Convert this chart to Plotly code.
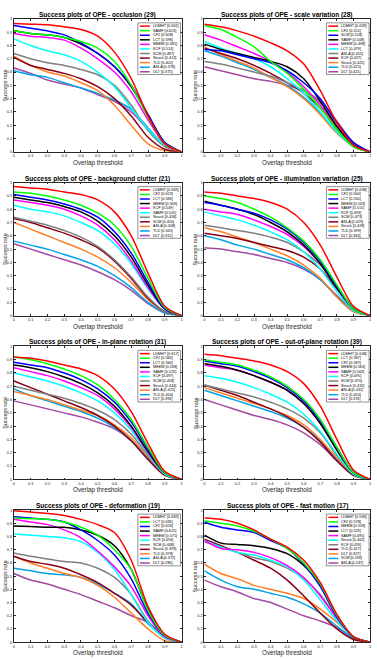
import plotly.graph_objects as go

X = [0, 0.1, 0.2, 0.3, 0.4, 0.5, 0.6, 0.7, 0.8, 0.9, 1.0]
X_TICKTEXT = ["0", "0.1", "0.2", "0.3", "0.4", "0.5", "0.6", "0.7", "0.8", "0.9", "1"]
COLORS = ["#FF0000", "#00FF00", "#0000FF", "#000000", "#FF00FF", "#00FFFF",
          "#808080", "#880015", "#FF7F27", "#00A2E8", "#A349A4"]

# ---- occlusion (29)
OCC_NAMES = ["LDMHT", "SAMF", "CF2", "LCT", "MEEM", "KCF", "SCM", "Struck", "TLD", "ASLA", "DLT"]
OCC_SCORES = ["0.661", "0.613", "0.608", "0.598", "0.581", "0.514", "0.487", "0.413", "0.402", "0.376", "0.375"]
OCC_CURVES = [
    [0.965, 0.96, 0.955, 0.94, 0.92, 0.87, 0.75, 0.55, 0.27, 0.06, 0],
    [0.91, 0.89, 0.88, 0.86, 0.83, 0.78, 0.68, 0.50, 0.26, 0.06, 0],
    [0.95, 0.93, 0.91, 0.88, 0.82, 0.74, 0.64, 0.50, 0.28, 0.07, 0],
    [0.91, 0.89, 0.88, 0.86, 0.81, 0.74, 0.64, 0.49, 0.28, 0.07, 0],
    [0.89, 0.87, 0.86, 0.84, 0.78, 0.70, 0.60, 0.45, 0.24, 0.06, 0],
    [0.85, 0.80, 0.76, 0.73, 0.68, 0.60, 0.49, 0.33, 0.17, 0.05, 0],
    [0.74, 0.70, 0.67, 0.65, 0.62, 0.58, 0.50, 0.35, 0.16, 0.04, 0],
    [0.71, 0.65, 0.62, 0.59, 0.55, 0.49, 0.40, 0.27, 0.11, 0.02, 0],
    [0.72, 0.65, 0.60, 0.57, 0.52, 0.46, 0.35, 0.20, 0.06, 0.01, 0],
    [0.61, 0.58, 0.56, 0.52, 0.48, 0.44, 0.39, 0.32, 0.18, 0.05, 0],
    [0.63, 0.59, 0.54, 0.51, 0.48, 0.43, 0.38, 0.30, 0.17, 0.05, 0],
]

# ---- scale variation (28)
SV_NAMES = ["LDMHT", "CF2", "SCM", "SAMF", "MEEM", "LCT", "ASLA", "KCF", "Struck", "TLD", "DLT"]
SV_SCORES = ["0.639", "0.551", "0.518", "0.508", "0.498", "0.479", "0.452", "0.427", "0.425", "0.421", "0.421"]
SV_CURVES = [
    [0.96, 0.94, 0.91, 0.87, 0.82, 0.76, 0.66, 0.46, 0.22, 0.05, 0],
    [0.95, 0.92, 0.86, 0.79, 0.68, 0.59, 0.47, 0.33, 0.17, 0.04, 0],
    [0.77, 0.76, 0.73, 0.70, 0.67, 0.61, 0.52, 0.40, 0.22, 0.07, 0],
    [0.81, 0.77, 0.74, 0.71, 0.68, 0.64, 0.55, 0.38, 0.19, 0.05, 0],
    [0.88, 0.84, 0.79, 0.74, 0.68, 0.60, 0.49, 0.35, 0.19, 0.05, 0],
    [0.83, 0.78, 0.74, 0.70, 0.64, 0.55, 0.44, 0.30, 0.15, 0.04, 0],
    [0.68, 0.66, 0.63, 0.60, 0.57, 0.52, 0.46, 0.37, 0.21, 0.06, 0],
    [0.78, 0.74, 0.70, 0.65, 0.59, 0.52, 0.44, 0.33, 0.17, 0.04, 0],
    [0.79, 0.73, 0.68, 0.63, 0.56, 0.49, 0.40, 0.28, 0.14, 0.04, 0],
    [0.76, 0.72, 0.67, 0.62, 0.56, 0.50, 0.41, 0.29, 0.15, 0.04, 0],
    [0.64, 0.61, 0.58, 0.55, 0.53, 0.50, 0.46, 0.38, 0.23, 0.07, 0],
]

# ---- background clutter (21)
BC_NAMES = ["LDMHT", "CF2", "LCT", "MEEM", "KCF", "SAMF", "Struck", "SCM", "ASLA", "TLD", "DLT"]
BC_SCORES = ["0.683", "0.623", "0.583", "0.569", "0.549", "0.520", "0.458", "0.450", "0.408", "0.345", "0.312"]
BC_CURVES = [
    [0.97, 0.96, 0.95, 0.93, 0.91, 0.87, 0.78, 0.60, 0.32, 0.07, 0],
    [0.93, 0.92, 0.90, 0.87, 0.83, 0.77, 0.68, 0.52, 0.28, 0.06, 0],
    [0.91, 0.89, 0.87, 0.84, 0.80, 0.74, 0.63, 0.47, 0.25, 0.05, 0],
    [0.89, 0.87, 0.85, 0.82, 0.78, 0.71, 0.60, 0.44, 0.23, 0.05, 0],
    [0.87, 0.85, 0.83, 0.80, 0.75, 0.68, 0.57, 0.41, 0.21, 0.05, 0],
    [0.83, 0.80, 0.78, 0.75, 0.70, 0.64, 0.54, 0.39, 0.20, 0.05, 0],
    [0.74, 0.71, 0.68, 0.64, 0.59, 0.52, 0.42, 0.29, 0.14, 0.03, 0],
    [0.73, 0.70, 0.66, 0.62, 0.57, 0.51, 0.41, 0.28, 0.13, 0.03, 0],
    [0.70, 0.65, 0.60, 0.55, 0.50, 0.44, 0.36, 0.25, 0.12, 0.03, 0],
    [0.56, 0.53, 0.50, 0.46, 0.42, 0.37, 0.30, 0.21, 0.10, 0.02, 0],
    [0.54, 0.50, 0.46, 0.42, 0.38, 0.33, 0.27, 0.19, 0.09, 0.02, 0],
]

# ---- illumination variation (25)
IV_NAMES = ["LDMHT", "CF2", "LCT", "MEEM", "SAMF", "KCF", "SCM", "ASLA", "Struck", "TLD", "DLT"]
IV_SCORES = ["0.638", "0.560", "0.550", "0.543", "0.515", "0.493", "0.473", "0.429", "0.428", "0.399", "0.363"]
IV_CURVES = [
    [0.93, 0.92, 0.90, 0.88, 0.85, 0.80, 0.70, 0.53, 0.29, 0.07, 0],
    [0.90, 0.88, 0.85, 0.80, 0.74, 0.66, 0.56, 0.42, 0.23, 0.05, 0],
    [0.85, 0.83, 0.80, 0.77, 0.72, 0.65, 0.55, 0.41, 0.22, 0.05, 0],
    [0.86, 0.83, 0.80, 0.76, 0.70, 0.63, 0.53, 0.39, 0.21, 0.05, 0],
    [0.80, 0.78, 0.76, 0.72, 0.67, 0.61, 0.52, 0.39, 0.21, 0.05, 0],
    [0.78, 0.75, 0.72, 0.68, 0.63, 0.57, 0.48, 0.35, 0.18, 0.04, 0],
    [0.68, 0.66, 0.64, 0.62, 0.59, 0.55, 0.48, 0.38, 0.22, 0.06, 0],
    [0.62, 0.60, 0.58, 0.55, 0.52, 0.49, 0.44, 0.35, 0.20, 0.05, 0],
    [0.66, 0.63, 0.59, 0.55, 0.50, 0.45, 0.38, 0.28, 0.14, 0.03, 0],
    [0.60, 0.57, 0.53, 0.50, 0.46, 0.42, 0.36, 0.27, 0.14, 0.03, 0],
    [0.51, 0.50, 0.48, 0.46, 0.43, 0.40, 0.35, 0.27, 0.15, 0.04, 0],
]

# ---- in-plane rotation (31)
IPR_NAMES = ["LDMHT", "CF2", "LCT", "MEEM", "SAMF", "KCF", "SCM", "Struck", "ASLA", "TLD", "DLT"]
IPR_SCORES = ["0.617", "0.582", "0.560", "0.538", "0.520", "0.497", "0.458", "0.444", "0.425", "0.416", "0.396"]
IPR_CURVES = [
    [0.92, 0.91, 0.89, 0.86, 0.83, 0.78, 0.68, 0.51, 0.27, 0.06, 0],
    [0.92, 0.90, 0.87, 0.83, 0.78, 0.71, 0.60, 0.45, 0.24, 0.05, 0],
    [0.88, 0.86, 0.84, 0.80, 0.75, 0.68, 0.58, 0.43, 0.23, 0.05, 0],
    [0.86, 0.84, 0.81, 0.77, 0.72, 0.65, 0.55, 0.40, 0.21, 0.05, 0],
    [0.84, 0.81, 0.78, 0.74, 0.69, 0.63, 0.53, 0.39, 0.20, 0.05, 0],
    [0.80, 0.77, 0.74, 0.70, 0.65, 0.59, 0.50, 0.37, 0.19, 0.04, 0],
    [0.70, 0.67, 0.64, 0.61, 0.57, 0.52, 0.45, 0.34, 0.18, 0.04, 0],
    [0.74, 0.69, 0.64, 0.59, 0.54, 0.48, 0.40, 0.29, 0.15, 0.03, 0],
    [0.66, 0.63, 0.60, 0.56, 0.52, 0.48, 0.41, 0.31, 0.17, 0.04, 0],
    [0.68, 0.63, 0.59, 0.55, 0.51, 0.46, 0.39, 0.29, 0.15, 0.04, 0],
    [0.59, 0.56, 0.53, 0.50, 0.47, 0.43, 0.38, 0.29, 0.16, 0.04, 0],
]

# ---- out-of-plane rotation (39)
OPR_NAMES = ["LDMHT", "LCT", "CF2", "MEEM", "SAMF", "KCF", "SCM", "Struck", "ASLA", "TLD", "DLT"]
OPR_SCORES = ["0.648", "0.587", "0.587", "0.563", "0.563", "0.495", "0.470", "0.432", "0.432", "0.420", "0.376"]
OPR_CURVES = [
    [0.94, 0.93, 0.91, 0.89, 0.86, 0.81, 0.72, 0.55, 0.30, 0.07, 0],
    [0.90, 0.88, 0.86, 0.82, 0.77, 0.70, 0.60, 0.45, 0.24, 0.05, 0],
    [0.89, 0.87, 0.85, 0.81, 0.76, 0.69, 0.59, 0.44, 0.24, 0.05, 0],
    [0.87, 0.85, 0.82, 0.78, 0.73, 0.67, 0.57, 0.42, 0.22, 0.05, 0],
    [0.86, 0.84, 0.82, 0.78, 0.73, 0.67, 0.57, 0.42, 0.22, 0.05, 0],
    [0.78, 0.76, 0.73, 0.69, 0.64, 0.58, 0.49, 0.36, 0.19, 0.04, 0],
    [0.71, 0.68, 0.65, 0.62, 0.58, 0.53, 0.46, 0.35, 0.18, 0.04, 0],
    [0.71, 0.67, 0.63, 0.58, 0.53, 0.47, 0.39, 0.28, 0.14, 0.03, 0],
    [0.69, 0.65, 0.61, 0.57, 0.53, 0.48, 0.41, 0.30, 0.16, 0.04, 0],
    [0.67, 0.63, 0.59, 0.55, 0.51, 0.46, 0.39, 0.29, 0.15, 0.04, 0],
    [0.60, 0.56, 0.52, 0.48, 0.45, 0.41, 0.35, 0.26, 0.14, 0.03, 0],
]

# ---- deformation (19)
DEF_NAMES = ["LDMHT", "LCT", "CF2", "SAMF", "MEEM", "KCF", "SCM", "Struck", "TLD", "ASLA", "DLT"]
DEF_SCORES = ["0.669", "0.636", "0.626", "0.625", "0.571", "0.494", "0.448", "0.393", "0.378", "0.372", "0.286"]
DEF_CURVES = [
    [0.995, 0.985, 0.975, 0.96, 0.93, 0.89, 0.83, 0.62, 0.27, 0.06, 0],
    [0.94, 0.935, 0.93, 0.91, 0.87, 0.81, 0.70, 0.55, 0.24, 0.05, 0],
    [0.95, 0.94, 0.93, 0.91, 0.85, 0.77, 0.66, 0.48, 0.22, 0.05, 0],
    [0.88, 0.875, 0.87, 0.87, 0.85, 0.81, 0.73, 0.55, 0.25, 0.05, 0],
    [0.93, 0.91, 0.89, 0.85, 0.79, 0.69, 0.57, 0.42, 0.20, 0.04, 0],
    [0.82, 0.81, 0.80, 0.79, 0.76, 0.68, 0.55, 0.36, 0.15, 0.03, 0],
    [0.675, 0.65, 0.63, 0.61, 0.60, 0.56, 0.49, 0.36, 0.16, 0.03, 0],
    [0.65, 0.61, 0.59, 0.56, 0.51, 0.45, 0.37, 0.28, 0.15, 0.04, 0],
    [0.65, 0.60, 0.56, 0.52, 0.49, 0.43, 0.34, 0.22, 0.10, 0.01, 0],
    [0.56, 0.54, 0.52, 0.51, 0.49, 0.44, 0.37, 0.29, 0.14, 0.04, 0],
    [0.52, 0.47, 0.44, 0.40, 0.36, 0.31, 0.26, 0.20, 0.15, 0.05, 0],
]

# ---- fast motion (17)
FM_NAMES = ["LDMHT", "CF2", "MEEM", "LCT", "SAMF", "Struck", "KCF", "TLD", "DLT", "SCM", "ASLA"]
FM_SCORES = ["0.583", "0.578", "0.558", "0.529", "0.495", "0.462", "0.459", "0.417", "0.327", "0.296", "0.247"]
FM_CURVES = [
    [0.94, 0.93, 0.90, 0.85, 0.78, 0.72, 0.62, 0.45, 0.21, 0.04, 0],
    [0.92, 0.90, 0.88, 0.84, 0.78, 0.71, 0.60, 0.44, 0.20, 0.04, 0],
    [0.91, 0.87, 0.85, 0.83, 0.77, 0.71, 0.59, 0.42, 0.19, 0.04, 0],
    [0.81, 0.75, 0.74, 0.73, 0.71, 0.67, 0.58, 0.43, 0.20, 0.04, 0],
    [0.77, 0.71, 0.70, 0.68, 0.64, 0.58, 0.49, 0.35, 0.18, 0.04, 0],
    [0.77, 0.72, 0.68, 0.66, 0.62, 0.57, 0.47, 0.32, 0.16, 0.04, 0],
    [0.76, 0.72, 0.68, 0.64, 0.61, 0.56, 0.48, 0.36, 0.18, 0.04, 0],
    [0.78, 0.73, 0.68, 0.62, 0.56, 0.47, 0.35, 0.22, 0.10, 0.02, 0],
    [0.59, 0.52, 0.48, 0.43, 0.40, 0.37, 0.33, 0.25, 0.15, 0.04, 0],
    [0.54, 0.47, 0.42, 0.40, 0.37, 0.34, 0.29, 0.22, 0.12, 0.03, 0],
    [0.47, 0.42, 0.38, 0.33, 0.30, 0.25, 0.20, 0.16, 0.11, 0.03, 0],
]

PANELS = [
    ("occlusion (29)", OCC_NAMES, OCC_SCORES, OCC_CURVES),
    ("scale variation (28)", SV_NAMES, SV_SCORES, SV_CURVES),
    ("background clutter (21)", BC_NAMES, BC_SCORES, BC_CURVES),
    ("illumination variation (25)", IV_NAMES, IV_SCORES, IV_CURVES),
    ("in-plane rotation (31)", IPR_NAMES, IPR_SCORES, IPR_CURVES),
    ("out-of-plane rotation (39)", OPR_NAMES, OPR_SCORES, OPR_CURVES),
    ("deformation (19)", DEF_NAMES, DEF_SCORES, DEF_CURVES),
    ("fast motion (17)", FM_NAMES, FM_SCORES, FM_CURVES),
]

W, H = 377, 659
COLS = [(13, 182), (205, 372)]
ROWS = [(16, 150), (181, 315), (346, 480), (511, 644)]
FONT = "Liberation Sans, Arial, sans-serif"
AXC = "#262626"


def px(x):
    return x / W


def py(y):
    return 1 - y / H


fig = go.Figure()
layout = dict(width=W, height=H, autosize=False, margin=dict(l=0, r=0, t=0, b=0),
              paper_bgcolor="white", plot_bgcolor="white", showlegend=False,
              font=dict(family=FONT, color=AXC))
annotations = []
shapes = []

for i, (title, names, scores, curves) in enumerate(PANELS):
    r, c = divmod(i, 2)
    x0, x1 = COLS[c]
    y0, y1 = ROWS[r]
    sfx = "" if i == 0 else str(i + 1)
    common = dict(range=[0, 1], showgrid=False, zeroline=False, showline=True,
                  linecolor=AXC, linewidth=0.6, mirror="ticks", ticks="inside",
                  ticklen=2, tickwidth=0.5, tickcolor=AXC,
                  tickvals=X, ticktext=X_TICKTEXT, tickfont=dict(size=4, color=AXC, family=FONT),
                  fixedrange=True)
    layout["xaxis" + sfx] = dict(common, domain=[px(x0), px(x1)], anchor="y" + sfx)
    layout["yaxis" + sfx] = dict(common, domain=[py(y1), py(y0)], anchor="x" + sfx)

    for k in range(len(names) - 1, -1, -1):
        fig.add_trace(go.Scatter(
            x=X, y=curves[k], mode="lines", name=names[k],
            line=dict(color=COLORS[k], width=1.5, shape="spline", smoothing=0.8),
            xaxis="x" + sfx, yaxis="y" + sfx, hoverinfo="skip"))

    cx = (x0 + x1) / 2
    annotations.append(dict(text="<b>Success plots of OPE - " + title + "</b>",
                            x=px(cx), y=py(y0 - 4), xref="paper", yref="paper",
                            xanchor="center", yanchor="middle", showarrow=False,
                            font=dict(size=6.5, color="black", family=FONT)))
    annotations.append(dict(text="Overlap threshold", x=px(cx), y=py(y1 + 11),
                            xref="paper", yref="paper", xanchor="center", yanchor="middle",
                            showarrow=False, font=dict(size=6.3, color=AXC, family=FONT)))
    annotations.append(dict(text="Success rate", x=px(x0 - 9), y=py((y0 + y1) / 2),
                            xref="paper", yref="paper", xanchor="center", yanchor="middle",
                            textangle=-90, showarrow=False,
                            font=dict(size=5.5, color=AXC, family=FONT)))

    # legend box
    lx0, lx1 = x1 - 44, x1 - 1
    ly0 = y0 + 4
    step = 4.6
    ly1 = ly0 + step * len(names) + 1.5
    shapes.append(dict(type="rect", xref="paper", yref="paper",
                       x0=px(lx0), x1=px(lx1), y0=py(ly1), y1=py(ly0),
                       fillcolor="white", line=dict(color=AXC, width=0.5), layer="above"))
    for k, (nm, sc) in enumerate(zip(names, scores)):
        yc = ly0 + 1 + step * (k + 0.5)
        shapes.append(dict(type="line", xref="paper", yref="paper",
                           x0=px(lx0 + 2), x1=px(lx0 + 12), y0=py(yc), y1=py(yc),
                           line=dict(color=COLORS[k], width=1.5), layer="above"))
        annotations.append(dict(text=f"{nm} [{sc}]", x=px(lx0 + 13), y=py(yc),
                                xref="paper", yref="paper", xanchor="left", yanchor="middle",
                                showarrow=False,
                                font=dict(size=3.8, color="black", family=FONT)))

layout["annotations"] = annotations
layout["shapes"] = shapes
fig.update_layout(**layout)
fig.write_html("out.html")
